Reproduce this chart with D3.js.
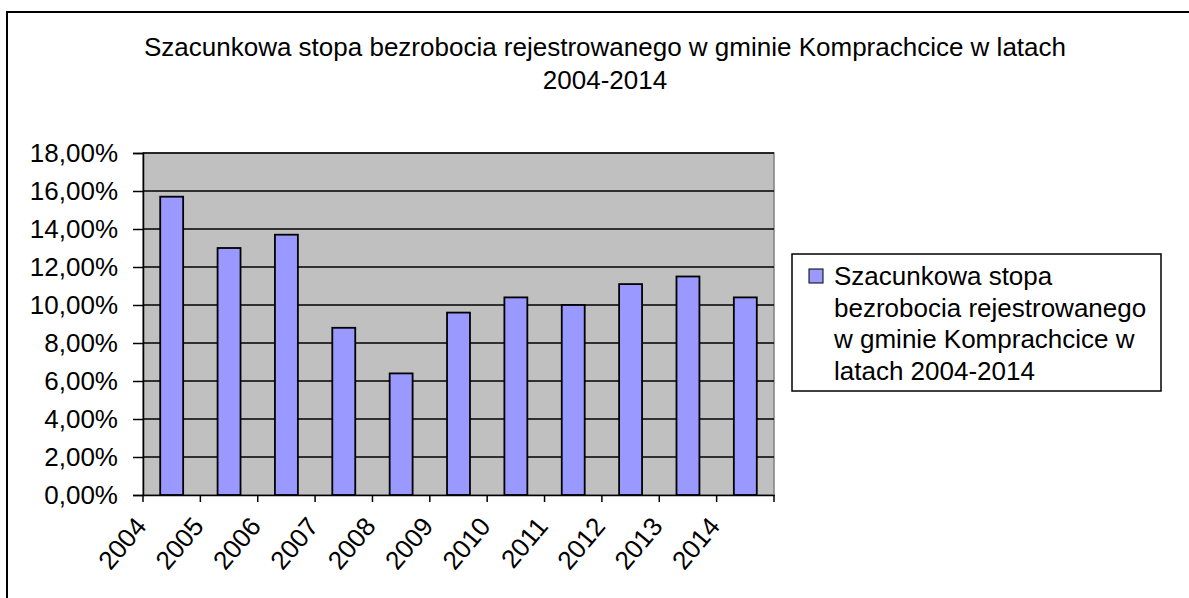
<!DOCTYPE html>
<html>
<head>
<meta charset="utf-8">
<script src="https://cdnjs.cloudflare.com/ajax/libs/d3/7.8.5/d3.min.js"></script>
<style>
  body { margin: 0; background: #fff; }
  text { font-family: "Liberation Sans", Arial, sans-serif; fill: #000; }
</style>
</head>
<body>
<svg id="chart"></svg>
<script>
const years = ['2004', '2005', '2006', '2007', '2008', '2009', '2010', '2011', '2012', '2013', '2014'];
const rates = [0.157, 0.130, 0.137, 0.088, 0.064, 0.096, 0.104, 0.100, 0.111, 0.115, 0.104];
const yTicks = [0, 0.02, 0.04, 0.06, 0.08, 0.10, 0.12, 0.14, 0.16, 0.18];
const titleLines = ['Szacunkowa stopa bezrobocia rejestrowanego w gminie Komprachcice w latach', '2004-2014'];
const legendLines = ['Szacunkowa stopa', 'bezrobocia rejestrowanego', 'w gminie Komprachcice w', 'latach 2004-2014'];

const W = 1189, H = 598;
const plot = { left: 143, right: 774, top: 153, bottom: 495 };

const svg = d3.select('#chart')
  .attr('width', W)
  .attr('height', H);

// outer chart border (runs off the right and bottom edge)
svg.append('rect')
  .attr('x', 7).attr('y', 12)
  .attr('width', 1250).attr('height', 700)
  .attr('fill', '#fff')
  .attr('stroke', '#000')
  .attr('stroke-width', 2);

// title
svg.append('text')
  .attr('text-anchor', 'middle')
  .style('font-size', '26px')
  .selectAll('tspan')
  .data(titleLines)
  .enter().append('tspan')
  .attr('x', 605)
  .attr('y', (d, i) => 56 + i * 33)
  .text(d => d);

const x = d3.scaleBand()
  .domain(years)
  .range([plot.left, plot.right]);

const y = d3.scaleLinear()
  .domain([0, 0.18])
  .range([plot.bottom, plot.top]);

const fmt = v => d3.format('.2f')(v * 100).replace('.', ',') + '%';

// plot background
svg.append('rect')
  .attr('x', plot.left).attr('y', plot.top)
  .attr('width', plot.right - plot.left)
  .attr('height', plot.bottom - plot.top)
  .attr('fill', '#c0c0c0')
  .attr('stroke', '#808080')
  .attr('stroke-width', 1.5);

// gridlines
svg.append('g')
  .selectAll('line')
  .data(yTicks.slice(1))
  .enter().append('line')
  .attr('x1', plot.left).attr('x2', plot.right)
  .attr('y1', d => y(d)).attr('y2', d => y(d))
  .attr('stroke', '#000')
  .attr('stroke-width', 1.5);

// bars (gap width 150%)
const barW = x.bandwidth() / 2.5;
svg.append('g')
  .selectAll('rect')
  .data(rates)
  .enter().append('rect')
  .attr('x', (d, i) => x(years[i]) + (x.bandwidth() - barW) / 2)
  .attr('y', d => y(d))
  .attr('width', barW)
  .attr('height', d => plot.bottom - y(d))
  .attr('fill', '#9999ff')
  .attr('stroke', '#000')
  .attr('stroke-width', 1.8);

// y axis
const yAxis = svg.append('g')
  .attr('transform', `translate(${plot.left}, 0)`)
  .call(d3.axisLeft(y).tickValues(yTicks).tickFormat(fmt).tickSize(10).tickPadding(15));
yAxis.select('.domain').attr('stroke', '#000').attr('stroke-width', 1.5);
yAxis.selectAll('.tick line').attr('stroke', '#000').attr('stroke-width', 1.5);
yAxis.selectAll('text').style('font-size', '26px').attr('font-family', null);

// x axis: line + tick marks on category boundaries
const xAxis = svg.append('g')
  .attr('transform', `translate(0, ${plot.bottom})`)
  .call(d3.axisBottom(x).tickSize(0).tickPadding(0));
xAxis.select('.domain').attr('stroke', '#000').attr('stroke-width', 1.5);
xAxis.selectAll('.tick text')
  .style('font-size', '26px')
  .attr('font-family', null)
  .attr('text-anchor', 'end')
  .attr('y', 0).attr('dy', 0)
  .attr('transform', 'translate(-24, 32) rotate(-50)');

const bounds = years.map(d => x(d)).concat([x(years[years.length - 1]) + x.bandwidth()]);
xAxis.append('g')
  .selectAll('line')
  .data(bounds)
  .enter().append('line')
  .attr('x1', d => d).attr('x2', d => d)
  .attr('y1', 0).attr('y2', 7)
  .attr('stroke', '#000')
  .attr('stroke-width', 1.5);

// legend
const legend = svg.append('g');
legend.append('rect')
  .attr('x', 792).attr('y', 254)
  .attr('width', 369).attr('height', 137)
  .attr('fill', '#fff')
  .attr('stroke', '#000')
  .attr('stroke-width', 1.5);
legend.append('rect')
  .attr('x', 809).attr('y', 269)
  .attr('width', 14).attr('height', 14)
  .attr('fill', '#9999ff')
  .attr('stroke', '#000')
  .attr('stroke-width', 1);
legend.append('text')
  .style('font-size', '26px')
  .selectAll('tspan')
  .data(legendLines)
  .enter().append('tspan')
  .attr('x', 834)
  .attr('y', (d, i) => 285 + i * 31.7)
  .text(d => d);
</script>
</body>
</html>
